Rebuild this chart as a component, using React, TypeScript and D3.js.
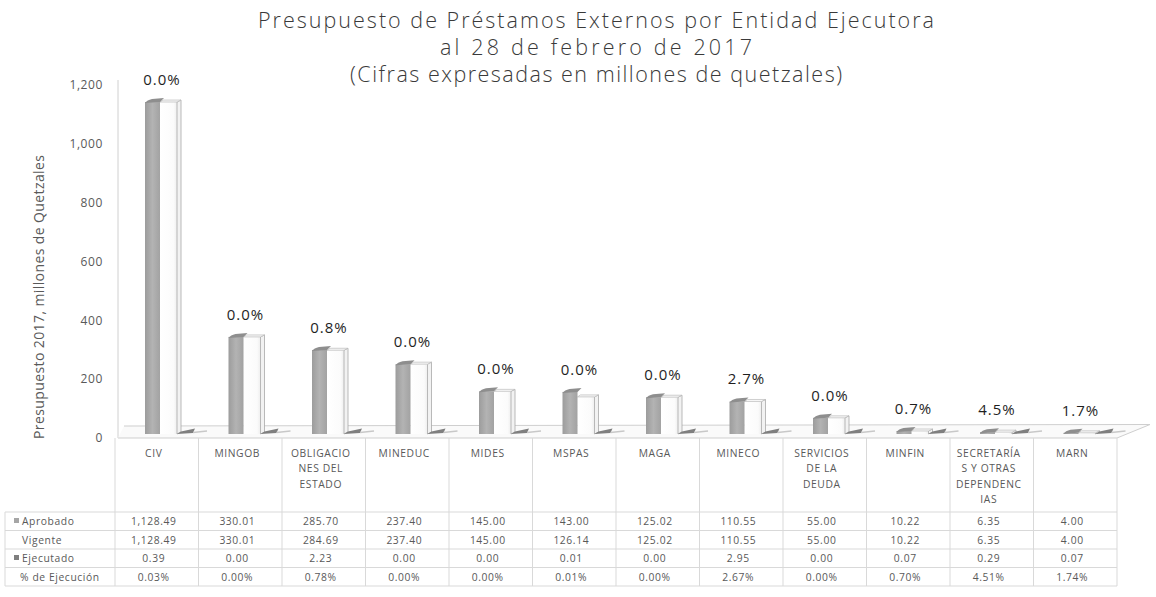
import React from "react";
import * as d3 from "d3";

const categories: string[][] = [
  ["CIV"],
  ["MINGOB"],
  ["OBLIGACIO", "NES DEL", "ESTADO"],
  ["MINEDUC"],
  ["MIDES"],
  ["MSPAS"],
  ["MAGA"],
  ["MINECO"],
  ["SERVICIOS", "DE LA", "DEUDA"],
  ["MINFIN"],
  ["SECRETARÍA", "S Y OTRAS", "DEPENDENC", "IAS"],
  ["MARN"],
];
const aprobado = [1128.49, 330.01, 285.7, 237.4, 145.0, 143.0, 125.02, 110.55, 55.0, 10.22, 6.35, 4.0];
const vigente = [1128.49, 330.01, 284.69, 237.4, 145.0, 126.14, 125.02, 110.55, 55.0, 10.22, 6.35, 4.0];
const ejecutado = [0.39, 0.0, 2.23, 0.0, 0.0, 0.01, 0.0, 2.95, 0.0, 0.07, 0.29, 0.07];
const pctEjecucion = [0.03, 0.0, 0.78, 0.0, 0.0, 0.01, 0.0, 2.67, 0.0, 0.7, 4.51, 1.74];
const yTicks = [0, 200, 400, 600, 800, 1000, 1200];
const titleLines = [
  "Presupuesto de Préstamos Externos por Entidad Ejecutora",
  "al 28 de febrero de 2017",
  "(Cifras expresadas en millones de quetzales)",
];
const titleWidths = [676, 312, 492];
const rowLabels = ["Aprobado", "Vigente", "Ejecutado", "% de Ejecución"];

const W = 1156;
const H = 597;
const FONT = "'Open Sans', 'DejaVu Sans', sans-serif";
const TXT = "#595959";

export default function App() {
  const keys = categories.map((c, i) => String(i));
  const x = d3.scaleBand<string>().domain(keys).range([115, 1117]).paddingInner(0).paddingOuter(0);
  const cw = x.bandwidth();
  const y = d3.scaleLinear().domain([0, 1200]).range([438, 85]);
  const base = 434;
  const barY = (v: number) => base - (y(0) - y(v));
  const fmt2 = d3.format(",.2f");
  const fmt1 = d3.format(".1f");

  const rowsY = [521, 540, 558, 577];
  const rowLines = [512, 530.5, 549, 567.5, 586];
  const tableLeft = 5;
  const tableRight = 1117;

  const rowValues = [
    aprobado.map((v) => fmt2(v)),
    vigente.map((v) => fmt2(v)),
    ejecutado.map((v) => fmt2(v)),
    pctEjecucion.map((v) => fmt2(v) + "%"),
  ];

  const tblFont = { fontFamily: FONT, fontSize: 10.3, fill: TXT, letterSpacing: 0.6 } as const;

  return (
    <svg width={W} height={H} style={{ position: "absolute", left: 0, top: 0, background: "#fff" }}>
      <defs>
        <linearGradient id="gGrey" x1="0" x2="1" y1="0" y2="0">
          <stop offset="0" stopColor="#9c9c9c" />
          <stop offset="0.5" stopColor="#b3b3b3" />
          <stop offset="1" stopColor="#a2a2a2" />
        </linearGradient>
        <linearGradient id="gWhite" x1="0" x2="1" y1="0" y2="0">
          <stop offset="0" stopColor="#ffffff" />
          <stop offset="0.8" stopColor="#fbfbfb" />
          <stop offset="1" stopColor="#eeeeee" />
        </linearGradient>
      </defs>
      <rect width={W} height={H} fill="#fff" />

      {/* title */}
      {titleLines.map((t, i) => (
        <text
          key={i}
          x={596}
          y={28 + i * 27}
          textAnchor="middle"
          fontFamily={FONT}
          fontSize={21.5}
          fontWeight={300}
          fill="#3a3a3a"
          textLength={titleWidths[i]}
          lengthAdjust="spacing"
        >
          {t}
        </text>
      ))}

      {/* y axis title */}
      <text
        transform={`translate(44,297) rotate(-90)`}
        textAnchor="middle"
        fontFamily={FONT}
        fontSize={14}
        fill={TXT}
        textLength={284}
        lengthAdjust="spacing"
      >
        Presupuesto 2017, millones de Quetzales
      </text>

      {/* y ticks */}
      {yTicks.map((t) => (
        <text
          key={t}
          x={103}
          y={y(t)}
          dy="0.35em"
          textAnchor="end"
          fontFamily={FONT}
          fontSize={12}
          letterSpacing={0.6}
          fill={TXT}
        >
          {d3.format(",")(t)}
        </text>
      ))}

      {/* axis line and floor */}
      <line x1={118} x2={118} y1={80} y2={438} stroke="#d0d0d0" strokeWidth={1} />
      <polygon points={`118,438 ${tableRight},438 1150,425 124,426`} fill="#fafafa" stroke="none" />
      <line x1={124} x2={1150} y1={426} y2={424.5} stroke="#cfcfcf" strokeWidth={1} />
      <line x1={tableRight} x2={1150} y1={438} y2={424.5} stroke="#cfcfcf" strokeWidth={1} />

      {/* bars */}
      {keys.map((k, i) => {
        const b = x(k)!;
        const ga = barY(aprobado[i]);
        const gv = barY(vigente[i]);
        const gx1 = b + 30;
        const gx2 = b + 45;
        const wx1 = gx2;
        const wx2 = b + 62;
        const wside = b + 66;
        const ex1 = b + 62;
        const ex2 = b + 80;
        const eh = Math.max(2.5, y(0) - y(ejecutado[i]));
        return (
          <g key={k}>
            {/* white bar (Vigente) */}
            <rect x={wx1} y={gv} width={wx2 - wx1} height={base - gv} fill="url(#gWhite)" />
            <polygon
              points={`${wx2},${gv} ${wside},${gv - 2} ${wside},${base - 2} ${wx2},${base}`}
              fill="#f2f2f2"
              stroke="#a8a8a8"
              strokeWidth={0.8}
            />
            <polygon
              points={`${wx1},${gv} ${wx1 + 3},${gv - 2} ${wside},${gv - 2} ${wx2},${gv}`}
              fill="#f7f7f7"
              stroke="#bcbcbc"
              strokeWidth={0.7}
            />
            {/* grey bar (Aprobado) */}
            <rect x={gx1} y={ga} width={gx2 - gx1} height={base - ga} fill="url(#gGrey)" />
            <path
              d={`M${gx1},${ga + 1} Q${gx1 + 2},${ga - 2} ${gx1 + 7},${ga - 3} L${gx2 + 4},${ga - 4} L${gx2},${ga} Z`}
              fill="#8e8e8e"
            />
            {/* ejecutado */}
            <polygon
              points={`${ex1},${base} ${ex1 + 4},${base - eh} ${ex2},${base - eh - 3} ${ex2 - 2},${base - 1}`}
              fill="#7f7f7f"
            />
            <line x1={ex2 - 2} x2={ex2 + 12} y1={base - 1.5} y2={base - 3} stroke="#c8c8c8" strokeWidth={1.5} />
            {/* percent label */}
            <text
              x={b + 47}
              y={Math.min(Math.min(ga, gv) - 17, 420)}
              textAnchor="middle"
              fontFamily={FONT}
              fontSize={15}
              letterSpacing={1}
              fill="#1f1f1f"
            >
              {fmt1(pctEjecucion[i])}%
            </text>
          </g>
        );
      })}

      {/* data table */}
      <line x1={118} x2={tableRight} y1={438} y2={438} stroke="#cfcfcf" />
      {rowLines.map((ry, i) => (
        <line key={i} x1={tableLeft} x2={tableRight} y1={ry} y2={ry} stroke="#d9d9d9" strokeWidth={1} />
      ))}
      {d3.range(keys.length + 1).map((j) => {
        const xx = j < keys.length ? x(keys[j])! : tableRight;
        return <line key={j} x1={xx} x2={xx} y1={438} y2={586} stroke="#d9d9d9" strokeWidth={1} />;
      })}
      <line x1={tableLeft} x2={tableLeft} y1={512} y2={586} stroke="#d9d9d9" strokeWidth={1} />

      {keys.map((k, i) => (
        <g key={"h" + k}>
          {categories[i].map((ln, li) => (
            <text
              key={li}
              x={x(k)! + cw / 2 - 3}
              y={453 + li * 15.5}
              dy="0.35em"
              textAnchor="middle"
              {...tblFont}
            >
              {ln}
            </text>
          ))}
          {rowValues.map((row, r) => (
            <text
              key={r}
              x={x(k)! + cw / 2 - 3}
              y={rowsY[r]}
              dy="0.35em"
              textAnchor="middle"
              {...tblFont}
            >
              {row[i]}
            </text>
          ))}
        </g>
      ))}

      {rowLabels.map((lbl, r) => (
        <g key={lbl}>
          {(r === 0 || r === 2) && (
            <rect x={14} y={rowsY[r] - 3} width={5} height={5} fill={r === 0 ? "#a6a6a6" : "#7f7f7f"} />
          )}
          <text x={r === 3 ? 20 : 22} y={rowsY[r]} dy="0.35em" {...tblFont}>
            {lbl}
          </text>
        </g>
      ))}
    </svg>
  );
}
